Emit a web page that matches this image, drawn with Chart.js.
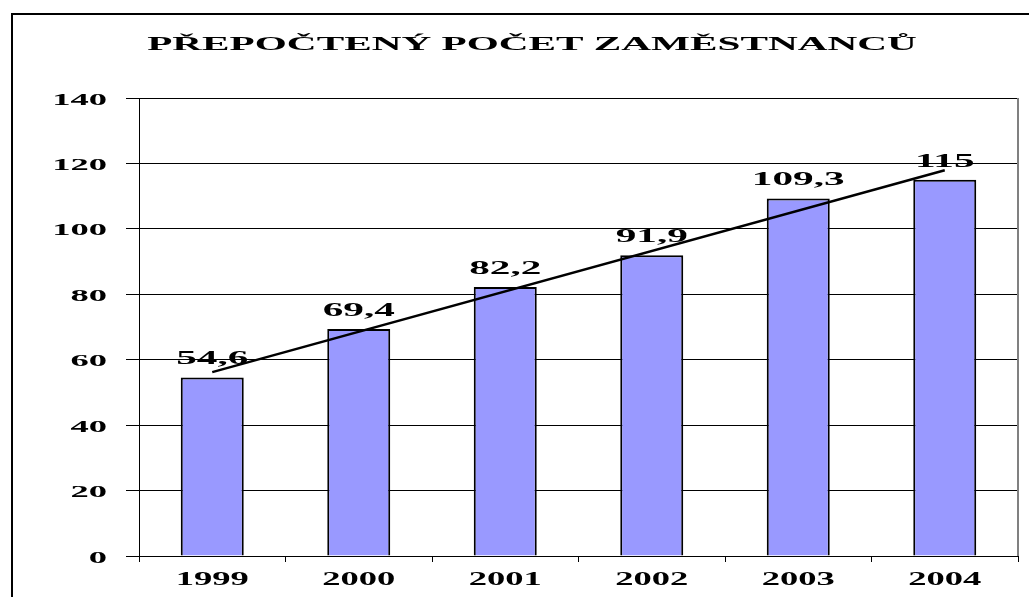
<!DOCTYPE html>
<html>
<head>
<meta charset="utf-8">
<script src="https://cdn.jsdelivr.net/npm/chart.js@4/dist/chart.umd.min.js"></script>
<style>
  html, body { margin: 0; padding: 0; background: #fff; }
  #wrap { width: 1029px; height: 597px; }
</style>
</head>
<body>
<div id="wrap"><canvas id="c" width="1029" height="597"></canvas></div>
<script>
const titleText = 'PŘEPOČTENÝ POČET ZAMĚSTNANCŮ';
const categories = ['1999', '2000', '2001', '2002', '2003', '2004'];
const values = [54.6, 69.4, 82.2, 91.9, 109.3, 115];
const valueLabels = ['54,6', '69,4', '82,2', '91,9', '109,3', '115'];
const trendValues = [56.2, null, null, null, null, 117.9];
const yTickValues = [0, 20, 40, 60, 80, 100, 120, 140];

const SERIF = "'Liberation Serif', 'Times New Roman', serif";

function stretchedText(ctx, text, x, y, size, sx, align) {
  ctx.save();
  ctx.font = 'bold ' + size + 'px ' + SERIF;
  ctx.fillStyle = '#000';
  ctx.textAlign = align;
  ctx.textBaseline = 'alphabetic';
  ctx.translate(x, y);
  ctx.scale(sx, 1);
  ctx.fillText(text, 0, 0);
  ctx.restore();
}

const textPlugin = {
  id: 'textPlugin',
  beforeDraw(chart) {
    const ctx = chart.ctx;
    ctx.save();
    ctx.fillStyle = '#fff';
    ctx.fillRect(0, 0, chart.width, chart.height);
    ctx.strokeStyle = '#000';
    ctx.lineWidth = 2;
    ctx.strokeRect(12, 14, chart.width + 20, chart.height + 20);
    ctx.restore();
    stretchedText(ctx, titleText, 532, 50, 19, 2.17, 'center');
  },
  afterDatasetDraw(chart, args) {
    if (args.index !== 0) return;
    const ctx = chart.ctx;
    const meta = chart.getDatasetMeta(0);
    meta.data.forEach((bar, i) => {
      stretchedText(ctx, valueLabels[i], bar.x, bar.y - 13, 19, 2.17, 'center');
    });
  },
  afterDraw(chart) {
    const ctx = chart.ctx;
    const y = chart.scales.y, x = chart.scales.x;
    yTickValues.forEach(v => {
      stretchedText(ctx, String(v), 107, y.getPixelForValue(v) + 6.5, 17, 2.15, 'right');
    });
    categories.forEach((c, i) => {
      stretchedText(ctx, c, x.getPixelForValue(i), 585, 18, 2.03, 'center');
    });
    const a = chart.chartArea;
    ctx.save();
    ctx.strokeStyle = '#808080';
    ctx.lineWidth = 2;
    ctx.beginPath();
    ctx.moveTo(a.right, a.top);
    ctx.lineTo(a.right, a.bottom);
    ctx.stroke();
    ctx.restore();
  }
};

new Chart(document.getElementById('c'), {
  type: 'bar',
  data: {
    labels: categories,
    datasets: [
      {
        type: 'bar',
        data: values,
        backgroundColor: '#9999FF',
        borderColor: '#000',
        borderWidth: 2,
        barPercentage: 0.43,
        categoryPercentage: 1.0,
        order: 1
      },
      {
        type: 'line',
        data: trendValues,
        spanGaps: true,
        borderColor: '#000',
        borderWidth: 2.5,
        pointRadius: 0,
        fill: false,
        order: 0
      }
    ]
  },
  options: {
    responsive: false,
    animation: false,
    devicePixelRatio: 1,
    layout: { padding: { left: 0, top: 98, right: 11, bottom: 0 } },
    plugins: {
      legend: { display: false },
      tooltip: { enabled: false },
      title: { display: false }
    },
    scales: {
      x: {
        offset: true,
        grid: { display: true, drawOnChartArea: false, offset: true, color: '#000', lineWidth: 1, tickLength: 6 },
        border: { display: true, color: '#000', width: 1 },
        ticks: { display: false },
        afterFit(scale) { scale.height = 41; }
      },
      y: {
        min: 0,
        max: 140,
        ticks: { display: false, stepSize: 20 },
        grid: { color: '#000', lineWidth: 1, tickLength: 13 },
        border: { display: true, color: '#000', width: 1 },
        afterFit(scale) { scale.width = 139; }
      }
    }
  },
  plugins: [textPlugin]
});
</script>
</body>
</html>
